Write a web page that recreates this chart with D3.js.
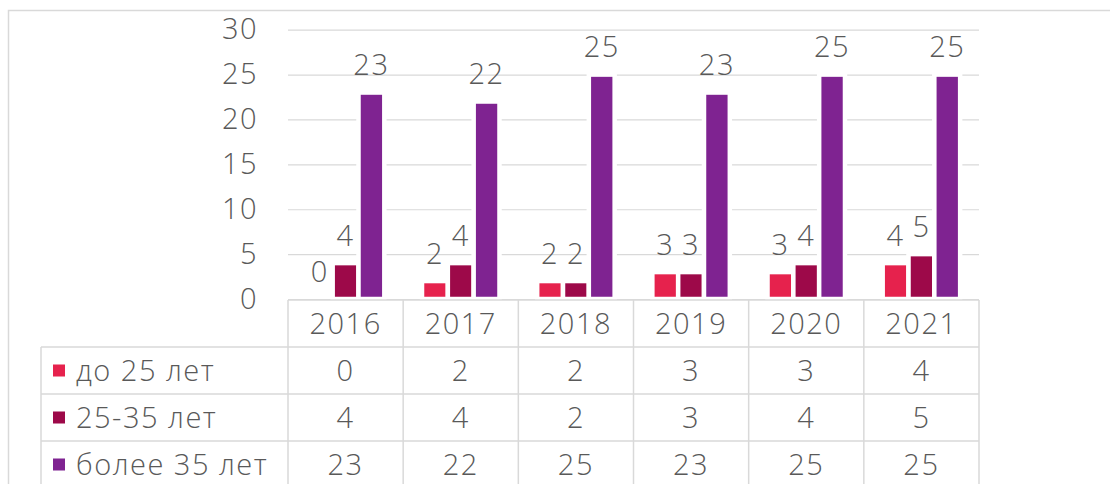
<!DOCTYPE html>
<html>
<head>
<meta charset="utf-8">
<script src="https://cdn.jsdelivr.net/npm/d3@7"></script>
<style>
  body { margin: 0; background: #fff; }
  svg text { font-family: "Open Sans", "DejaVu Sans", sans-serif; font-weight: 300; fill: #595959; letter-spacing: 1.5px; }
</style>
</head>
<body>
<div id="chart"></div>
<script>
// data
var years = ["2016", "2017", "2018", "2019", "2020", "2021"];
var seriesNames = ["до 25 лет", "25-35 лет", "более 35 лет"];
var under25 = [0, 2, 2, 3, 3, 4];
var from25to35 = [4, 4, 2, 3, 4, 5];
var over35 = [23, 22, 25, 23, 25, 25];
var yTicks = [0, 5, 10, 15, 20, 25, 30];
var colors = ["#E6224D", "#9D0949", "#7F2391"];

var series = [under25, from25to35, over35];

var width = 1110, height = 484;
var fontSize = 29;
var gridColor = "#D9D9D9";

var svg = d3.select("#chart").append("svg")
    .attr("width", width)
    .attr("height", height);

// plot area
var x0 = 288, x1 = 979, yTop = 29.7, yZero = 299;

var x = d3.scaleBand().domain(years).range([x0, x1]);
var xs = d3.scaleBand().domain(seriesNames)
    .range([0, x.bandwidth()])
    .paddingInner(0)
    .paddingOuter(0.73);
var y = d3.scaleLinear().domain([0, 30]).range([yZero, yTop]);

// outer frame
svg.append("path")
    .attr("d", "M8.5," + height + "V10.5H" + width)
    .attr("fill", "none")
    .attr("stroke", gridColor)
    .attr("stroke-width", 1.5);

// y axis with gridlines
var yAxis = svg.append("g")
    .attr("transform", "translate(" + x0 + ",0)")
    .call(d3.axisLeft(y).tickValues(yTicks)
        .tickSize(-(x1 - x0))
        .tickPadding(30));
yAxis.select(".domain").remove();
yAxis.selectAll(".tick line").attr("stroke", gridColor).attr("stroke-width", 1.2);
yAxis.selectAll(".tick text")
    .attr("fill", "#595959")
    .style("font-size", fontSize + "px")
    .attr("font-family", null);

// bars
var groups = svg.selectAll("g.year")
    .data(years)
    .enter().append("g")
    .attr("class", "year")
    .attr("transform", function(d) {
        return "translate(" + x(d) + ",0)";
    });

groups.selectAll("rect")
    .data(function(d, i) {
        return series.map(function(s, j) {
            return { name: seriesNames[j], value: s[i], color: colors[j] };
        });
    })
    .enter().append("rect")
    .attr("x", function(d) { return xs(d.name); })
    .attr("y", function(d) { return y(d.value); })
    .attr("width", xs.bandwidth())
    .attr("height", function(d) { return y(0) - y(d.value); })
    .attr("fill", function(d) { return d.color; })
    .attr("stroke", "#fff")
    .attr("stroke-width", 4.5);

// data labels
groups.selectAll("text.label")
    .data(function(d, i) {
        return series.map(function(s, j) {
            return { name: seriesNames[j], value: s[i] };
        });
    })
    .enter().append("text")
    .attr("class", "label")
    .attr("x", function(d) { return xs(d.name) + xs.bandwidth() / 2; })
    .attr("y", function(d) { return y(d.value) - 17.5; })
    .attr("text-anchor", "middle")
    .style("font-size", fontSize + "px")
    .text(function(d) { return d.value; });

// data table
var rowH = 47, tableTop = 300, labelLeft = 41;
var rowY = function(r) { return tableTop + r * rowH; };
var table = svg.append("g");

// header row
table.append("line")
    .attr("x1", x0).attr("x2", x1)
    .attr("y1", tableTop).attr("y2", tableTop);
years.forEach(function(yr) {
    table.append("text")
        .attr("x", x(yr) + x.bandwidth() / 2)
        .attr("y", rowY(0) + rowH / 2)
        .attr("dy", "0.35em")
        .attr("text-anchor", "middle")
        .style("font-size", fontSize + "px")
        .text(yr);
});

// row lines
[1, 2, 3].forEach(function(r) {
    table.append("line")
        .attr("x1", labelLeft).attr("x2", x1)
        .attr("y1", rowY(r)).attr("y2", rowY(r));
});
// vertical lines
table.append("line")
    .attr("x1", labelLeft).attr("x2", labelLeft)
    .attr("y1", rowY(1)).attr("y2", height);
years.forEach(function(yr) {
    table.append("line")
        .attr("x1", x(yr)).attr("x2", x(yr))
        .attr("y1", tableTop).attr("y2", height);
});
table.append("line")
    .attr("x1", x1).attr("x2", x1)
    .attr("y1", tableTop).attr("y2", height);

table.selectAll("line")
    .attr("stroke", gridColor)
    .attr("stroke-width", 1.5);

// series rows
seriesNames.forEach(function(name, j) {
    var cy = rowY(j + 1) + rowH / 2;
    table.append("rect")
        .attr("x", 53).attr("y", cy - 6)
        .attr("width", 12).attr("height", 12)
        .attr("fill", colors[j]);
    table.append("text")
        .attr("x", 76)
        .attr("y", cy)
        .attr("dy", "0.35em")
        .style("font-size", fontSize + "px")
        .text(name);
    series[j].forEach(function(v, i) {
        table.append("text")
            .attr("x", x(years[i]) + x.bandwidth() / 2)
            .attr("y", cy)
            .attr("dy", "0.35em")
            .attr("text-anchor", "middle")
            .style("font-size", fontSize + "px")
            .text(v);
    });
});
</script>
</body>
</html>
